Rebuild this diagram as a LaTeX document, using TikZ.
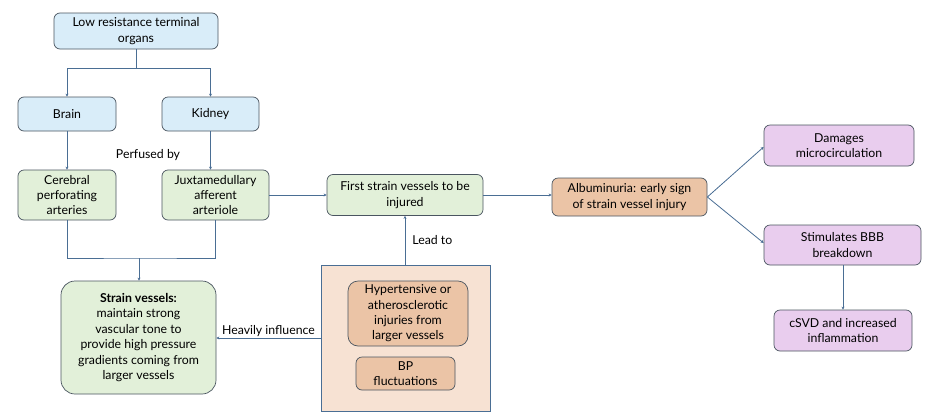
\documentclass[tikz,border=0pt]{standalone}
\usepackage{fontspec}
\setmainfont{Lato}
\usetikzlibrary{arrows.meta,calc}
\definecolor{bluef}{HTML}{D9EDF9}
\definecolor{greenf}{HTML}{E2F0D9}
\definecolor{salmonf}{HTML}{EBC4A6}
\definecolor{beigef}{HTML}{F7E2D3}
\definecolor{purplef}{HTML}{E9CDEE}
\definecolor{bord}{HTML}{4A5560}
\definecolor{conncol}{HTML}{4A6E94}
\begin{document}
\begin{tikzpicture}[x=1pt,y=-1pt,
  box/.style={draw=bord, line width=0.7pt, rounded corners=6pt, align=center, inner sep=1pt,
    font=\fontsize{12.3}{15.4}\selectfont},
  conn/.style={draw=conncol, line width=0.8pt},
  arr/.style={conn, -{Stealth[length=3pt,width=3pt]}},
  lbl/.style={font=\fontsize{12.3}{14}\selectfont, inner sep=1pt}]
\useasboundingbox (0,0) rectangle (936,418);
\fill[white] (0,0) rectangle (936,418);

% big beige rectangle
\node[draw=conncol, line width=0.8pt, fill=beigef, minimum width=169pt, minimum height=146pt, inner sep=0pt] (cause) at (405.5,338) {};

\node[box, fill=bluef, minimum width=164pt, minimum height=36pt] (top) at (136,31) {Low resistance terminal\\organs};
\node[box, fill=bluef, minimum width=98pt, minimum height=34pt] (brain) at (67,114) {Brain};
\node[box, fill=bluef, minimum width=97pt, minimum height=34pt] (kidney) at (210.5,114) {Kidney};
\node[box, fill=greenf, minimum width=98pt, minimum height=50pt] (cereb) at (67,195) {Cerebral\\perforating\\arteries};
\node[box, fill=greenf, minimum width=107pt, minimum height=50pt] (juxta) at (215.5,195) {Juxtamedullary\\afferent\\arteriole};
\node[box, fill=greenf, minimum width=155pt, minimum height=113pt, rounded corners=14pt] (strain) at (138.5,337.5) {\textbf{Strain vessels:}\\maintain strong\\vascular tone to\\provide high pressure\\gradients coming from\\larger vessels};
\node[box, fill=greenf, minimum width=156pt, minimum height=41pt] (first) at (405,195) {First strain vessels to be\\injured};
\node[box, fill=salmonf, minimum width=120pt, minimum height=65pt, rounded corners=10pt] (hyper) at (408,313.5) {Hypertensive or\\atherosclerotic\\injuries from\\larger vessels};
\node[box, fill=salmonf, minimum width=99pt, minimum height=33pt] (bp) at (405.5,373.5) {BP\\fluctuations};
\node[box, fill=salmonf, minimum width=155pt, minimum height=38pt] (alb) at (629.5,197) {Albuminuria: early sign\\of strain vessel injury};
\node[box, fill=purplef, minimum width=150pt, minimum height=41pt] (dam) at (839,145.5) {Damages\\microcirculation};
\node[box, fill=purplef, minimum width=157pt, minimum height=40pt] (stim) at (842.5,245) {Stimulates BBB\\breakdown};
\node[box, fill=purplef, minimum width=138pt, minimum height=41pt] (csvd) at (843,330.5) {cSVD and increased\\inflammation};

% connectors
\coordinate (split) at (136,68);
\draw[conn] (top.south) -- (split);
\draw[arr] (split) -| (brain.north);
\draw[arr] (split) -| (kidney.north);
\draw[arr] (brain.south) -- (cereb.north);
\draw[arr] (kidney.south) -- (kidney.south |- juxta.north);
\coordinate (merge) at (139,258);
\draw[conn] (cereb.south) |- (merge) -| (juxta.south);
\draw[arr] (merge) -- (merge |- strain.north);
\node[lbl] (perf) at (148,155) {Perfused by};
\draw[arr] (juxta.east) -- (first.west);
\draw[arr] (cause.north -| first.south) -- node[lbl, right=6pt, pos=0.5] (leadlbl) {Lead to} (first.south);
\draw[arr] (cause.west) -- node[lbl, above=0pt] (heavy) {Heavily influence} (strain.east |- cause.west);
\draw[arr] (first.east) -- (first.east -| alb.west);
\draw[arr] (alb.east) -- ($(dam.west)+(0,1.5)$);
\draw[arr] (alb.east) -- ($(stim.west)+(0,-2)$);
\draw[arr] (stim.south -| csvd.north) -- (csvd.north);
\end{tikzpicture}
\end{document}
